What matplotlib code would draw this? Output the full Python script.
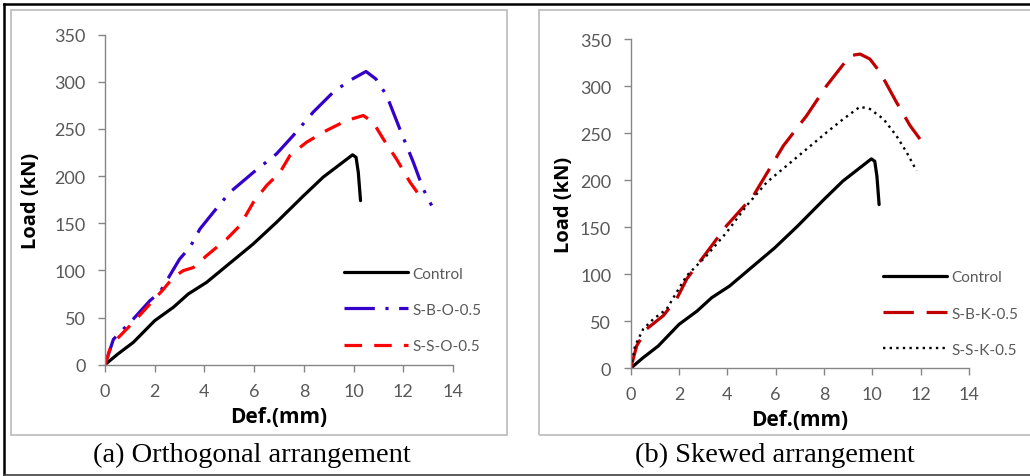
import matplotlib
matplotlib.use("Agg")
import matplotlib.pyplot as plt
from matplotlib.patches import Rectangle
from matplotlib.lines import Line2D

# ---------------- data ----------------
ctrl_x = [0, 0.5, 1.14, 2.0, 2.75, 3.35, 4.09, 4.9, 5.96, 6.9, 7.98, 8.78, 9.58, 9.96, 10.1, 10.19, 10.28]
ctrl_y = [0, 11, 23.7, 46.7, 60.9, 75, 87.4, 105, 128, 151, 179, 199, 215, 222.6, 220, 204, 174]

sbo_x = [0, 0.34, 1.14, 1.81, 2.21, 2.48, 3.0, 3.42, 3.82, 4.36, 5.03, 5.97, 6.9, 7.57, 8.38, 9.18, 9.85, 10.5, 10.9, 11.33, 11.86, 12.4, 12.8, 13.14]
sbo_y = [0, 27, 48.5, 68, 77, 89, 112, 124.6, 144, 161.7, 183, 204, 223.6, 243, 268, 289, 301.5, 311, 303, 285.6, 250, 215, 186.5, 168.8]

sso_x = [0, 0.2, 0.47, 1.14, 1.81, 2.35, 2.75, 3.15, 3.55, 4.09, 4.9, 5.43, 5.97, 6.5, 7.04, 7.44, 8.11, 8.91, 9.72, 10.39, 10.79, 11.19, 11.73, 12.27, 12.7]
sso_y = [0, 16.6, 27, 45, 64.4, 80, 92.7, 99.8, 103, 115.7, 133.4, 147.6, 172.3, 190, 204, 221.9, 236, 248.4, 259, 264.3, 257, 239.6, 218, 193.6, 177.6]

sbk_x = [0, 0.25, 0.66, 1.35, 1.9, 2.32, 3.14, 3.97, 5.08, 6.32, 7.28, 8.11, 9.08, 9.49, 9.9, 10.32, 11.0, 11.56, 11.97]
sbk_y = [0, 24, 41.8, 56, 73.7, 95, 123, 151.6, 183.5, 236.6, 268.5, 300.4, 332.3, 334, 328.7, 314.6, 282.7, 258, 243.7]

ssk_x = [0, 0.18, 0.52, 0.94, 1.49, 1.9, 2.32, 3.14, 3.97, 4.8, 5.63, 6.46, 7.28, 8.11, 8.8, 9.49, 9.9, 10.46, 11.0, 11.42, 11.83]
ssk_y = [0, 24, 41.8, 52.4, 63, 80.8, 98.5, 119.7, 144.5, 172.9, 197.7, 215.4, 233, 250.8, 265, 278, 275.6, 265, 247, 229.5, 210]

x_ticks = [0, 2, 4, 6, 8, 10, 12, 14]
y_ticks = [0, 50, 100, 150, 200, 250, 300, 350]
labels_a = ["Control", "S-B-O-0.5", "S-S-O-0.5"]
labels_b = ["Control", "S-B-K-0.5", "S-S-K-0.5"]
captions = ["(a) Orthogonal arrangement", "(b) Skewed arrangement"]

# ---------------- figure ----------------
W, H = 1030, 477
fig = plt.figure(figsize=(W / 100, H / 100), dpi=100)

def fx(px):
    return px / W

def fy(py):
    return 1 - py / H

# outer border and panel boxes
fig.add_artist(Line2D([fx(4), fx(1030)], [fy(4.5), fy(4.5)], color="black", lw=1.8))
fig.add_artist(Line2D([fx(4), fx(4)], [fy(4.5), fy(475)], color="black", lw=1.8))
fig.add_artist(Line2D([fx(4), fx(1030)], [fy(475.5), fy(475.5)], color="#404040", lw=1.2))
fig.add_artist(Rectangle((fx(11), fy(436)), fx(507 - 11), (436 - 11) / H, fill=False,
                         edgecolor="#BFBFBF", lw=1.3))
fig.add_artist(Rectangle((fx(539), fy(436)), fx(1032 - 539), (436 - 11) / H, fill=False,
                         edgecolor="#BFBFBF", lw=1.3))

tickfont = "Lato"
gray = "#868686"
tcol = "#595959"

def style_axes(ax):
    ax.set_xlim(0, 14)
    ax.set_ylim(0, 350)
    ax.set_xticks(x_ticks)
    ax.set_yticks(y_ticks)
    for s in ["top", "right"]:
        ax.spines[s].set_visible(False)
    for s in ["left", "bottom"]:
        ax.spines[s].set_color(gray)
        ax.spines[s].set_linewidth(1.0)
    ax.tick_params(axis="both", direction="out", length=5, width=1.0, color=gray,
                   labelcolor=tcol, labelsize=13)
    ax.tick_params(axis="x", pad=8)
    ax.tick_params(axis="y", pad=9)
    for lab in ax.get_xticklabels() + ax.get_yticklabels():
        lab.set_fontfamily(tickfont)
    ax.set_xlabel("Def.(mm)", fontsize=15, fontweight="bold", family="Open Sans", labelpad=5)
    ax.set_ylabel("Load (kN)", fontsize=14.5, fontweight="bold", family="Open Sans")
    ax.patch.set_alpha(0)

lw = 2.3
# ---- panel (a) ----
axa = fig.add_axes([105 / W, 1 - 365.7 / H, 348 / W, 330 / H])
axa.plot(ctrl_x, ctrl_y, color="black", lw=lw, solid_capstyle="round", label=labels_a[0])
axa.plot(sbo_x, sbo_y, color="#3300CC", lw=lw, dashes=(9.5, 3.3, 1, 3.3),
         dash_capstyle="butt", label=labels_a[1])
axa.plot(sso_x, sso_y, color="#FF0000", lw=lw, dashes=(5.5, 3.8),
         dash_capstyle="butt", label=labels_a[2])
style_axes(axa)
axa.yaxis.set_label_coords(-0.184, 0.5)
leg = axa.legend(loc="upper left", bbox_to_anchor=(0.686, 0.297), frameon=False,
                 handlelength=4.2, handletextpad=0.3, labelspacing=1.45,
                 borderaxespad=0, borderpad=0,
                 prop={"family": tickfont, "size": 11})
for t in leg.get_texts():
    t.set_color(tcol)

# ---- panel (b) ----
axb = fig.add_axes([630.7 / W, 1 - 369.3 / H, 338.3 / W, 329.3 / H])
axb.plot(ctrl_x, ctrl_y, color="black", lw=lw, solid_capstyle="round", label=labels_b[0])
axb.plot(sbk_x, sbk_y, color="#C00000", lw=lw, dashes=(9.5, 4),
         dash_capstyle="butt", label=labels_b[1])
axb.plot(ssk_x, ssk_y, color="black", lw=1.7, dashes=(1, 1.8),
         dash_capstyle="butt", label=labels_b[2])
style_axes(axb)
axb.yaxis.set_label_coords(-0.168, 0.5)
leg = axb.legend(loc="upper left", bbox_to_anchor=(0.745, 0.297), frameon=False,
                 handlelength=4.2, handletextpad=0.3, labelspacing=1.45,
                 borderaxespad=0, borderpad=0,
                 prop={"family": tickfont, "size": 11})
for t in leg.get_texts():
    t.set_color(tcol)

# captions
fig.text(fx(252), fy(455), captions[0], ha="center", va="center",
         family="Liberation Serif", fontsize=20.5, color="black")
fig.text(fx(775), fy(455), captions[1], ha="center", va="center",
         family="Liberation Serif", fontsize=20.5, color="black")

fig.savefig("out.png", dpi=100)
